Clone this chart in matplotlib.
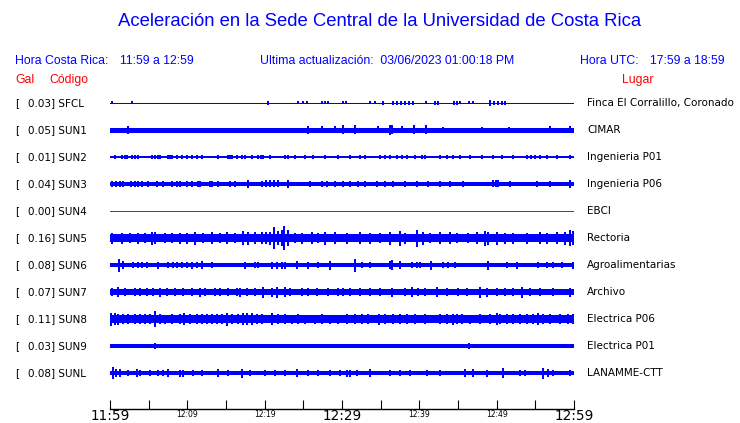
import matplotlib
matplotlib.use("Agg")
import matplotlib.pyplot as plt

# ---------------- data ----------------
codes = ["SFCL", "SUN1", "SUN2", "SUN3", "SUN4", "SUN5", "SUN6", "SUN7", "SUN8", "SUN9", "SUNL"]
peak_gal = [0.03, 0.05, 0.01, 0.04, 0.00, 0.16, 0.08, 0.07, 0.11, 0.03, 0.08]
places = ["Finca El Corralillo, Coronado", "CIMAR", "Ingenieria P01", "Ingenieria P06", "EBCI",
          "Rectoria", "Agroalimentarias", "Archivo", "Electrica P06", "Electrica P01", "LANAMME-CTT"]
# base half-thickness of each trace band (px)
base_amp = [0.5, 2.5, 0.7, 2.3, 0.0, 4.2, 2.1, 3.0, 4.0, 2.0, 2.3]
trace_color = ["blue"] * 4 + ["red"] + ["blue"] * 6

# (minute after 11:59, half amplitude px) of visible peaks
sfcl_peaks = [(0.26, 1.5), (2.8, 1.5), (20.4, 1.8), (24.3, 1.5), (25.0, 1.5), (25.5, 1.5), (27.4, 1.5),
              (27.8, 1.5), (28.2, 1.5), (30.1, 1.5), (30.5, 1.5), (33.6, 1.5), (34.3, 1.5), (35.3, 1.8),
              (36.6, 2.0), (37.1, 2.0), (37.6, 2.0), (38.1, 2.0), (38.7, 2.0), (39.2, 1.8), (40.9, 1.5),
              (42.0, 1.8), (42.4, 1.8), (44.5, 1.8), (44.9, 1.8), (45.3, 1.5), (46.4, 1.5), (47.0, 1.5),
              (49.1, 2.6), (49.7, 2.0), (50.2, 2.0), (50.7, 2.0), (51.1, 1.8)]
sun1_peaks = [(2.3, 4.0), (25.6, 4.0), (27.4, 3.5), (29.1, 3.5), (30.1, 4.5), (31.7, 4.5), (34.7, 3.5),
              (36.2, 5.0), (36.5, 4.5), (37.8, 3.5), (39.3, 4.5), (40.9, 4.5), (43.1, 3.2), (48.1, 3.2),
              (51.6, 3.2), (56.9, 3.5), (59.5, 3.5)]
sun2_peaks = [(0.65, 1.8), (1.55, 1.8), (1.94, 1.8), (2.2, 1.8), (2.84, 1.8), (3.23, 1.8), (3.62, 1.8),
              (5.43, 1.8), (5.82, 1.8), (6.2, 1.8), (6.47, 1.8), (7.5, 1.8), (7.76, 1.8), (8.0, 1.8),
              (8.66, 1.8), (9.3, 1.8), (9.96, 1.8), (10.6, 1.8), (11.25, 1.8), (11.9, 1.8), (13.96, 1.8),
              (15.26, 1.8), (15.5, 1.8), (15.78, 1.8), (16.4, 1.8), (17.1, 1.8), (17.46, 1.8), (18.36, 1.8),
              (19.1, 1.8), (19.5, 1.8), (19.8, 1.8), (20.7, 1.8), (22.6, 1.8), (23.0, 1.8), (23.9, 1.8),
              (25.2, 1.8), (26.2, 1.8), (27.8, 1.8), (29.5, 1.8), (31.0, 1.8), (32.3, 1.8), (33.0, 1.8),
              (34.9, 1.8), (35.6, 1.8), (36.2, 1.8), (37.1, 1.8), (37.8, 1.8), (38.4, 1.8), (39.4, 1.8),
              (40.3, 1.8), (40.7, 1.8), (42.7, 1.8), (43.6, 1.8), (44.4, 1.8), (45.3, 1.8), (46.5, 1.8),
              (48.1, 1.8), (49.5, 1.8), (50.7, 1.8), (52.1, 1.8), (53.9, 1.8), (54.4, 1.8), (55.0, 1.8),
              (55.6, 1.8), (56.5, 1.8), (57.8, 1.8), (59.5, 1.8)]
sun3_peaks = [(0.26, 3.2), (0.78, 3.2), (1.29, 3.2), (1.68, 3.2), (2.7, 3.2), (3.2, 3.2), (3.6, 3.2),
              (4.1, 3.0), (4.9, 3.0), (6.1, 3.0), (6.85, 3.0), (8.0, 3.0), (8.66, 3.0), (9.05, 3.0),
              (9.96, 3.0), (10.6, 3.0), (11.4, 3.0), (11.6, 3.0), (12.9, 3.0), (13.2, 3.0), (14.0, 3.0),
              (15.5, 3.2), (16.2, 3.0), (17.8, 4.0), (19.65, 3.2), (20.2, 3.5), (20.7, 3.5), (21.2, 3.5),
              (21.7, 3.5), (23.0, 4.0), (25.9, 3.0), (27.4, 3.0), (28.1, 3.0), (29.1, 3.0), (30.1, 3.2),
              (31.0, 3.0), (32.1, 3.0), (33.0, 3.2), (34.5, 3.0), (35.6, 3.0), (36.6, 3.2), (38.1, 3.0),
              (39.7, 3.0), (41.1, 3.0), (42.7, 3.0), (44.0, 3.0), (45.6, 3.0), (49.5, 3.5), (49.9, 3.5),
              (50.2, 3.5), (51.7, 3.0), (55.2, 3.0), (56.9, 3.0), (59.5, 4.0)]
sun4_peaks = []
sun5_peaks = [(0.26, 5.5), (1.55, 5.5), (2.6, 5.0), (3.6, 5.5), (4.5, 5.0), (5.4, 6.5), (5.8, 6.0),
              (7.1, 5.0), (8.0, 5.0), (9.05, 5.5), (9.96, 5.5), (11.0, 6.5), (12.0, 5.0), (13.2, 6.0),
              (14.2, 5.0), (15.1, 6.0), (16.2, 5.0), (17.2, 7.0), (17.8, 6.5), (18.75, 6.0), (19.65, 6.0),
              (20.2, 6.0), (20.7, 6.5), (21.2, 11.0), (21.7, 7.0), (22.2, 8.0), (22.5, 12.0), (23.0, 8.0),
              (23.9, 5.0), (24.8, 5.5), (26.1, 6.0), (26.9, 5.0), (27.8, 6.5), (29.1, 6.0), (30.6, 5.5),
              (32.3, 6.0), (33.6, 5.5), (34.9, 5.0), (36.2, 6.5), (37.5, 7.5), (38.1, 5.5), (39.7, 8.5),
              (40.5, 6.5), (41.4, 5.0), (42.7, 6.0), (44.0, 6.0), (44.9, 5.0), (46.3, 5.0), (47.5, 6.0),
              (48.5, 7.5), (48.9, 6.5), (50.0, 6.5), (51.1, 5.5), (52.1, 5.5), (53.9, 5.5), (55.6, 6.0),
              (56.5, 5.5), (57.8, 6.0), (58.8, 6.5), (59.5, 8.0), (59.9, 7.0)]
sun6_peaks = [(1.16, 6.5), (1.68, 4.0), (3.0, 3.0), (3.6, 3.0), (4.1, 3.0), (4.8, 3.0), (6.2, 3.5),
              (7.5, 3.0), (8.1, 3.0), (8.7, 3.0), (9.3, 3.0), (9.96, 3.0), (10.6, 3.5), (11.25, 3.0),
              (11.9, 4.0), (13.2, 3.0), (17.5, 3.5), (18.75, 3.0), (19.1, 3.0), (20.9, 3.5), (21.6, 3.5),
              (22.2, 3.5), (22.6, 3.5), (24.2, 4.0), (25.6, 3.5), (26.9, 3.0), (28.4, 4.5), (31.7, 6.5),
              (32.6, 3.0), (33.6, 3.0), (36.2, 4.0), (36.5, 5.0), (37.5, 4.0), (39.0, 3.0), (39.7, 3.0),
              (40.1, 3.0), (41.5, 4.5), (43.1, 3.0), (43.7, 3.0), (44.6, 3.0), (48.9, 4.5), (51.3, 3.0),
              (52.6, 3.5), (55.3, 3.0), (56.5, 3.0), (57.3, 3.0), (58.4, 3.0), (59.9, 3.5)]
sun7_peaks = [(0.26, 4.0), (1.03, 5.0), (1.94, 4.0), (3.23, 4.0), (3.88, 4.0), (4.78, 4.0), (5.56, 4.0),
              (6.47, 4.5), (7.37, 4.0), (8.4, 4.0), (9.44, 4.0), (10.6, 4.0), (11.6, 4.5), (12.3, 4.0),
              (13.6, 4.0), (14.2, 4.0), (15.3, 4.0), (16.4, 4.0), (16.8, 4.5), (17.7, 4.0), (18.75, 4.0),
              (19.8, 5.5), (20.9, 4.5), (21.6, 5.5), (22.6, 5.0), (23.3, 4.0), (24.8, 4.0), (25.6, 4.0),
              (26.8, 4.0), (28.2, 4.0), (29.5, 4.0), (30.1, 4.0), (31.0, 4.0), (32.3, 4.0), (33.6, 4.0),
              (34.9, 4.0), (36.5, 4.5), (38.1, 4.0), (39.0, 5.0), (39.8, 4.0), (40.7, 4.0), (42.3, 5.0),
              (43.6, 4.0), (45.0, 4.0), (46.2, 4.0), (47.8, 5.5), (48.7, 4.5), (50.0, 4.0), (51.1, 4.0),
              (52.1, 4.0), (53.3, 5.5), (54.3, 4.0), (55.6, 4.0), (57.3, 4.0), (59.5, 4.5)]
sun8_peaks = [(0.13, 6.5), (0.65, 6.0), (1.03, 5.5), (1.68, 5.0), (2.33, 5.0), (3.23, 5.0), (3.88, 5.0),
              (4.53, 5.0), (5.17, 5.0), (5.82, 8.0), (6.47, 5.0), (7.11, 4.5), (8.0, 5.0), (9.05, 5.0),
              (9.57, 6.0), (10.3, 5.0), (11.25, 5.0), (11.9, 5.0), (12.5, 5.0), (13.2, 5.0), (13.8, 5.0),
              (14.5, 5.0), (15.1, 6.5), (15.8, 5.0), (16.55, 5.0), (17.2, 6.0), (17.7, 6.0), (18.4, 6.0),
              (19.0, 5.0), (19.65, 5.0), (20.9, 6.0), (21.7, 5.0), (22.6, 5.0), (23.5, 4.5), (24.3, 5.0),
              (25.2, 4.5), (26.5, 4.5), (27.4, 5.0), (28.4, 4.5), (29.5, 4.5), (30.6, 5.0), (31.7, 5.0),
              (32.6, 5.0), (33.4, 5.0), (34.8, 5.5), (35.6, 5.0), (36.6, 5.0), (37.5, 5.0), (38.4, 5.0),
              (39.4, 5.0), (40.7, 5.0), (42.7, 5.0), (43.6, 5.0), (44.4, 5.5), (44.9, 5.0), (45.5, 5.0),
              (46.5, 4.5), (47.8, 5.0), (49.1, 5.0), (50.0, 6.0), (50.4, 5.0), (51.3, 5.0), (52.1, 5.0),
              (53.0, 5.0), (53.9, 5.0), (54.7, 5.0), (55.3, 6.0), (56.0, 5.0), (56.9, 5.0), (58.2, 5.0),
              (59.2, 5.0), (59.9, 5.0)]
sun9_peaks = [(5.82, 3.0), (46.4, 2.6)]
sunl_peaks = [(0.39, 6.0), (0.78, 4.0), (1.29, 4.0), (2.33, 3.0), (3.5, 4.0), (3.88, 3.0), (5.17, 3.0),
              (6.2, 3.0), (6.85, 3.0), (7.5, 4.0), (9.05, 3.5), (9.44, 3.5), (10.7, 3.0), (11.9, 3.0),
              (14.0, 4.0), (15.3, 3.0), (17.1, 4.5), (18.1, 3.0), (20.0, 3.0), (21.3, 3.0), (22.6, 3.0),
              (24.2, 4.0), (25.6, 3.0), (26.9, 3.0), (28.4, 3.0), (29.7, 3.0), (30.6, 3.5), (31.0, 3.5),
              (31.9, 3.0), (33.6, 4.0), (36.2, 3.0), (37.5, 3.0), (38.8, 3.0), (41.0, 3.0), (42.7, 3.0),
              (45.9, 4.0), (47.0, 4.0), (48.7, 3.5), (50.8, 5.0), (53.0, 3.0), (53.7, 3.0), (56.0, 5.5),
              (56.6, 4.0), (57.3, 3.0), (59.5, 3.0)]
all_peaks = [sfcl_peaks, sun1_peaks, sun2_peaks, sun3_peaks, sun4_peaks, sun5_peaks,
             sun6_peaks, sun7_peaks, sun8_peaks, sun9_peaks, sunl_peaks]

tick_minutes = list(range(0, 61, 5))
big_labels = {0: "11:59", 30: "12:29", 60: "12:59"}
small_labels = {10: "12:09", 20: "12:19", 40: "12:39", 50: "12:49"}

# ---------------- figure ----------------
W, H = 740, 423
fig = plt.figure(figsize=(W / 100, H / 100), dpi=100)
fig.patch.set_facecolor("white")

x0, x1 = 110, 574
y_top, y_bot = 90, 409
ax = fig.add_axes([x0 / W, (H - y_bot) / H, (x1 - x0) / W, (y_bot - y_top) / H])
ax.set_xlim(0, 60)
ax.set_ylim(y_bot, y_top)  # y in pixel rows
for s in ["top", "left", "right"]:
    ax.spines[s].set_visible(False)
ax.spines["bottom"].set_linewidth(1.0)
ax.set_yticks([])
ax.set_xticks(tick_minutes)
ax.set_xticklabels([])
ax.tick_params(axis="x", direction="in", length=6.5, width=0.8, color="black")

first_row, spacing = 103, 27
px2pt = 0.72
for i, code in enumerate(codes):
    yc = first_row + spacing * i
    col = trace_color[i]
    if base_amp[i] > 0:
        ax.fill_between([0, 60], yc - base_amp[i], yc + base_amp[i], color=col, lw=0)
    else:
        ax.plot([0, 60], [yc, yc], color=col, lw=1.0 * px2pt)
    pk = all_peaks[i]
    if pk:
        ts = [p[0] for p in pk]
        amps = [p[1] for p in pk]
        ax.vlines(ts, [yc - a for a in amps], [yc + a for a in amps], color=col, lw=2.0 * px2pt)
    # labels
    fig.text(15 / W, 1 - yc / H, "[", fontsize=7.5, family="DejaVu Sans", va="center", ha="left")
    fig.text(28 / W, 1 - yc / H, f"{peak_gal[i]:.2f}] {code}", fontsize=7.5, family="DejaVu Sans",
             va="center", ha="left")
    fig.text(587 / W, 1 - yc / H, places[i], fontsize=7.5, family="DejaVu Sans", va="center", ha="left")

for m, lab in big_labels.items():
    ax.text(m, 416, lab, fontsize=9.8, family="DejaVu Sans", ha="center", va="center", clip_on=False)
for m, lab in small_labels.items():
    ax.text(m, 414, lab, fontsize=5.5, family="DejaVu Sans", ha="center", va="center", clip_on=False)

# header texts
hfont = "Liberation Sans"
fig.text(380 / W, 1 - 22 / H, "Aceleración en la Sede Central de la Universidad de Costa Rica",
         fontsize=13.3, family=hfont, color="blue", ha="center", va="center")
fig.text(15 / W, 1 - 61 / H, "Hora Costa Rica:", fontsize=8.8, family=hfont, color="blue", va="center")
fig.text(120 / W, 1 - 61 / H, "11:59 a 12:59", fontsize=8.8, family=hfont, color="blue", va="center")
fig.text(260 / W, 1 - 61 / H, "Ultima actualización:  03/06/2023 01:00:18 PM", fontsize=8.8, family=hfont,
         color="blue", va="center")
fig.text(580 / W, 1 - 61 / H, "Hora UTC:", fontsize=8.8, family=hfont, color="blue", va="center")
fig.text(650 / W, 1 - 61 / H, "17:59 a 18:59", fontsize=8.8, family=hfont, color="blue", va="center")
fig.text(15 / W, 1 - 80 / H, "Gal", fontsize=8.8, family=hfont, color="red", va="center")
fig.text(49 / W, 1 - 80 / H, "Código", fontsize=8.8, family=hfont, color="red", va="center")
fig.text(622 / W, 1 - 80 / H, "Lugar", fontsize=8.8, family=hfont, color="red", va="center")

fig.savefig("out.png", dpi=100)
